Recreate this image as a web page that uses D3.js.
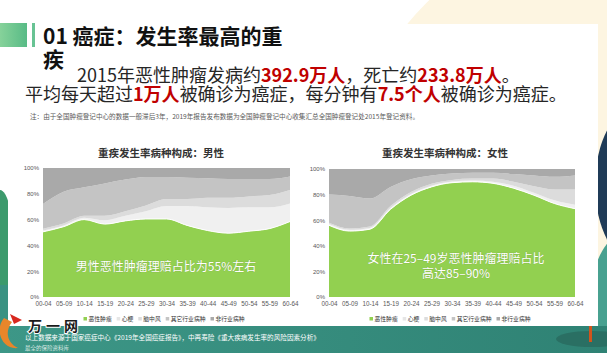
<!DOCTYPE html>
<html>
<head>
<meta charset="utf-8">
<script src="https://cdn.jsdelivr.net/npm/d3@7"></script>
<style>
  html, body { margin: 0; padding: 0; background: #fff; }
  svg { display: block; font-family: "Noto Sans CJK SC", "Noto Sans", sans-serif; }
</style>
</head>
<body>
<svg id="slide" width="607" height="353"></svg>
<script>
// age bands on the x axis
const ageGroups = ["00-04", "05-09", "10-14", "15-19", "20-24", "25-29", "30-34",
                   "35-39", "40-44", "45-49", "50-54", "55-59", "60-64"];

// share of claims per disease (%), male
const maleTumor         = [50.5, 54.5, 60, 56.5, 59, 60.5, 60.5, 55.5, 51.5, 49.5, 51, 53, 58.5];
const maleHeart         = [1, 1, 1.5, 3, 4, 6, 10, 15, 18, 19.5, 18.5, 16.5, 14];
const maleStroke        = [1.5, 1.5, 1.5, 3.5, 3.5, 4.5, 5.5, 5.5, 7.5, 8, 8.5, 9.5, 10.5];
const maleOtherIndustry = [19, 24.5, 22, 25, 24.5, 22, 17, 16.5, 15, 14.5, 13.5, 12.5, 10.5];
const maleNonIndustry   = [28, 18.5, 15, 12, 9, 7, 7, 7.5, 8, 8.5, 8.5, 8.5, 6.5];

// share of claims per disease (%), female
const femaleTumor         = [56, 51.5, 53, 68.5, 79.5, 86, 89.3, 90, 88.8, 85, 79.5, 73, 69];
const femaleHeart         = [1, 1, 1, 1, 1, 1, 0.9, 1, 1.2, 2, 2, 2.5, 3];
const femaleStroke        = [1, 1, 1, 1.5, 1.5, 1.5, 1.3, 1.5, 2.5, 3, 5, 8.5, 12];
const femaleOtherIndustry = [22, 25.5, 22, 15, 10, 6.5, 5, 4.5, 4.5, 6, 8.5, 10, 11];
const femaleNonIndustry   = [20, 21, 23, 14, 8, 5, 3.5, 3, 3, 4, 5, 6, 5];

const layerNames = ["恶性肿瘤", "心梗", "脑中风", "其它行业病种", "非行业病种"];
const layerKeys = ["tumor", "heart", "stroke", "other", "non"];
const layerColors = ["#92d050", "#f0f0f0", "#dcdcdc", "#c4c4c4", "#a9a9a9"];
const yTicks = [0, 20, 40, 60, 80, 100];

const svg = d3.select("#slide");
const defs = svg.append("defs");

// ---- slide background ----
svg.append("rect").attr("width", 607).attr("height", 353).attr("fill", "#fff");
svg.append("circle").attr("cx", 600).attr("cy", 180).attr("r", 248).attr("fill", "#fdf5e1");
svg.append("ellipse").attr("cx", 640).attr("cy", 185).attr("rx", 45).attr("ry", 80).attr("fill", "#1f3b57");
svg.append("ellipse").attr("cx", 640).attr("cy", 300).attr("rx", 50).attr("ry", 75).attr("fill", "#48a190");
svg.append("ellipse").attr("cx", 0).attr("cy", 250).attr("rx", 14).attr("ry", 60).attr("fill", "#3c9a6c");
svg.append("rect").attr("x", 0).attr("y", 285).attr("width", 10).attr("height", 68).attr("fill", "#3a9282");

const band = defs.append("linearGradient").attr("id", "band").attr("x1", "0%").attr("x2", "100%");
band.append("stop").attr("offset", "0%").attr("stop-color", "#3d9787");
band.append("stop").attr("offset", "100%").attr("stop-color", "#2f8274");
svg.append("rect").attr("x", 0).attr("y", 326).attr("width", 607).attr("height", 27).attr("fill", "url(#band)");
svg.append("ellipse").attr("cx", 592).attr("cy", 339).attr("rx", 36).attr("ry", 8).attr("fill", "#2a6f63");
svg.append("rect").attr("x", 589).attr("y", 324).attr("width", 3).attr("height", 18).attr("fill", "#d2541c");

// white content panel
svg.append("rect").attr("x", 8).attr("y", 24).attr("width", 590).attr("height", 302).attr("fill", "#fff");

// ---- heading ----
const hg = defs.append("linearGradient").attr("id", "hg").attr("x1", "0%").attr("x2", "100%");
hg.append("stop").attr("offset", "0%").attr("stop-color", "#86d29a");
hg.append("stop").attr("offset", "100%").attr("stop-color", "#58bb86");
svg.append("rect").attr("x", 0).attr("y", 23).attr("width", 27).attr("height", 24).attr("fill", "url(#hg)");
svg.append("rect").attr("x", 32).attr("y", 23).attr("width", 3).attr("height", 24).attr("fill", "#68c394");

svg.append("text").attr("x", 43).attr("y", 44).attr("font-size", 21).attr("font-weight", 700)
  .attr("fill", "#111").text("01 癌症：发生率最高的重");
svg.append("text").attr("x", 43).attr("y", 67).attr("font-size", 21).attr("font-weight", 700)
  .attr("fill", "#111").text("疾");

// a line of mixed plain / red bold runs, each run its own text placed after the previous one
function richLine(x, y, parts) {
  let cx = x;
  parts.forEach(p => {
    const t = svg.append("text").attr("x", cx).attr("y", y).attr("font-size", 18)
      .attr("fill", p[1] ? "#c00000" : "#262626")
      .attr("font-weight", p[1] ? 700 : 400)
      .text(p[0]);
    cx += t.node().getComputedTextLength();
  });
}
richLine(77, 82, [["2015年恶性肿瘤发病约"], ["392.9万人", true], ["，死亡约"], ["233.8万人", true], ["。"]]);
richLine(25, 101, [["平均每天超过"], ["1万人", true], ["被确诊为癌症，每分钟有"], ["7.5个人", true], ["被确诊为癌症。"]]);

svg.append("text").attr("x", 30).attr("y", 119).attr("font-size", 6.6).attr("fill", "#595959")
  .text("注：由于全国肿瘤登记中心的数据一般滞后3年，2019年报告发布数据为全国肿瘤登记中心收集汇总全国肿瘤登记处2015年登记资料。");

// ---- stacked area charts ----
function drawChart(cfg) {
  const rows = ageGroups.map((a, i) => ({
    age: a,
    tumor: cfg.series[0][i], heart: cfg.series[1][i], stroke: cfg.series[2][i],
    other: cfg.series[3][i], non: cfg.series[4][i]
  }));
  const stacked = d3.stack().keys(layerKeys)(rows);

  const x = d3.scalePoint().domain(ageGroups).range([cfg.left, cfg.right]);
  const y = d3.scaleLinear().domain([0, 100]).range([cfg.bottom, cfg.top]);

  const area = d3.area()
    .x(d => x(d.data.age))
    .y0(d => y(d[0]))
    .y1(d => y(Math.min(100, d[1])))
    .curve(d3.curveMonotoneX);

  const g = svg.append("g");
  g.selectAll("path.layer").data(stacked).enter().append("path")
    .attr("class", "layer")
    .attr("d", area)
    .attr("fill", (d, i) => layerColors[i]);

  // thin white edge on top of the tumour layer
  g.append("path")
    .datum(stacked[0])
    .attr("d", d3.line().x(d => x(d.data.age)).y(d => y(d[1])).curve(d3.curveMonotoneX))
    .attr("fill", "none").attr("stroke", "#fff").attr("stroke-width", 1);

  const yAxis = g.append("g").attr("transform", `translate(${cfg.left},0)`)
    .call(d3.axisLeft(y).tickValues(yTicks).tickSize(0).tickPadding(4).tickFormat(d => d + "%"));
  yAxis.select(".domain").remove();
  yAxis.selectAll("text").attr("font-size", 6).attr("fill", "#595959").attr("font-family", "Liberation Sans, sans-serif");

  const xAxis = g.append("g").attr("transform", `translate(0,${cfg.bottom})`)
    .call(d3.axisBottom(x).tickSize(0).tickPadding(5));
  xAxis.select(".domain").remove();
  xAxis.selectAll("text").attr("font-size", 6.3).attr("fill", "#595959").attr("font-family", "Liberation Sans, sans-serif");

  g.append("text").attr("x", cfg.titleX).attr("y", 157).attr("text-anchor", "middle")
    .attr("font-size", 10.5).attr("font-weight", 700).attr("fill", "#333").text(cfg.title);

  // legend
  const lg = g.append("g");
  let cx = 0;
  layerNames.forEach((name, i) => {
    lg.append("rect").attr("x", cx).attr("y", -4).attr("width", 3.5).attr("height", 3.5)
      .attr("fill", layerColors[i] === "#f0f0f0" ? "#e6e6e6" : layerColors[i]);
    const t = lg.append("text").attr("x", cx + 5).attr("y", 0).attr("font-size", 5.8).attr("fill", "#333").text(name);
    cx += 5 + t.node().getComputedTextLength() + 5;
  });
  lg.attr("transform", `translate(${cfg.legendX - (cx - 5) / 2},321)`);

  // overlay note in white
  cfg.note.forEach((line, i) => {
    g.append("text").attr("x", cfg.noteX).attr("y", cfg.noteY + i * 15).attr("text-anchor", "middle")
      .attr("font-size", 12).attr("fill", "#fff")
      .attr("stroke", "rgba(90,120,50,0.35)").attr("stroke-width", 0.6).attr("paint-order", "stroke")
      .text(line);
  });
}

drawChart({
  series: [maleTumor, maleHeart, maleStroke, maleOtherIndustry, maleNonIndustry],
  left: 43, right: 290, top: 168, bottom: 297,
  title: "重疾发生率病种构成：男性", titleX: 161, legendX: 164,
  note: ["男性恶性肿瘤理赔占比为55%左右"], noteX: 166, noteY: 271
});

drawChart({
  series: [femaleTumor, femaleHeart, femaleStroke, femaleOtherIndustry, femaleNonIndustry],
  left: 329, right: 575, top: 169, bottom: 297,
  title: "重疾发生率病种构成：女性", titleX: 445, legendX: 450,
  note: ["女性在25–49岁恶性肿瘤理赔占比", "高达85–90%"], noteX: 456, noteY: 263
});

// ---- footer ----
const logo = svg.append("g");
logo.append("path").attr("d", "M4,318 C-6,330 2,350 18,348 C8,344 4,332 12,322 Z").attr("fill", "#e8862a");
logo.append("path").attr("d", "M10,314 L22,320 L14,324 Z").attr("fill", "#d8281f");
logo.append("text").attr("x", 28).attr("y", 331).attr("font-size", 14).attr("font-weight", 700)
  .attr("letter-spacing", 4).attr("fill", "#1a1a1a")
  .attr("stroke", "#fff").attr("stroke-width", 2).attr("paint-order", "stroke").text("万一网");
svg.append("text").attr("x", 25).attr("y", 340).attr("font-size", 6.6).attr("fill", "#fff")
  .text("以上数据来源于国家癌症中心《2019年全国癌症报告》，中再寿险《重大疾病发生率的风险因素分析》");
svg.append("text").attr("x", 25).attr("y", 349.5).attr("font-size", 5.5).attr("fill", "#d8e8e2")
  .text("最全的保险资料库");
</script>
</body>
</html>
